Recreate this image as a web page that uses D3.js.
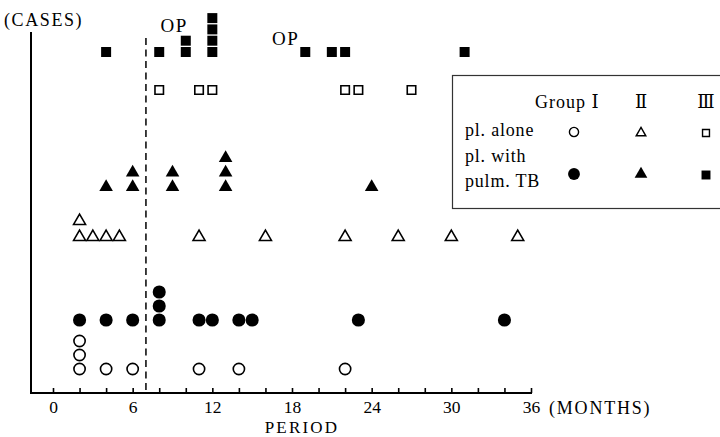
<!DOCTYPE html>
<html>
<head>
<meta charset="utf-8">
<script src="https://cdn.jsdelivr.net/npm/d3@7"></script>
<style>
  body { margin: 0; background: #fff; }
  svg { display: block; font-family: "Liberation Serif", "DejaVu Serif", serif; }
</style>
</head>
<body>
<svg id="chart" width="720" height="437"></svg>
<script>
// months at which each case was recorded; repeated months stack upward
const openCircle     = [2, 2, 2, 4, 6, 11, 14, 22];
const filledCircle   = [2, 4, 6, 8, 8, 8, 11, 12, 14, 15, 23, 34];
const openTriangle   = [2, 2, 3, 4, 5, 11, 16, 22, 26, 30, 35];
const filledTriangle = [4, 6, 6, 9, 9, 13, 13, 13, 24];
const openSquare     = [8, 11, 12, 22, 23, 27];
const filledSquare   = [4, 8, 10, 10, 12, 12, 12, 12, 19, 21, 22, 31];

const xTicks = d3.range(0, 37, 2);
const opMonth = 7;
const opNotes = [{ label: 'OP', month: 8.1, row: 0 }, { label: 'OP', month: 16.5, row: 1 }];
const groupLabels = ['Group Ⅰ', 'Ⅱ', 'Ⅲ'];
const rowLabels = ['pl. alone', ['pl. with', 'pulm. TB']];

const svg = d3.select('#chart');
const axisLeftX = 31, axisTop = 32, axisY = 393;

const x = d3.scaleLinear().domain([0, 36]).range([53, 531]);

// base row of each series, bottom to top, and the vertical step for stacked cases
const series = [
  { key: 'oc', data: openCircle,     type: d3.symbolCircle,   fill: false, size: 100, step: 14 },
  { key: 'fc', data: filledCircle,   type: d3.symbolCircle,   fill: true,  size: 135, step: 14 },
  { key: 'ot', data: openTriangle,   type: d3.symbolTriangle, fill: false, size: 62,  step: 16 },
  { key: 'ft', data: filledTriangle, type: d3.symbolTriangle, fill: true,  size: 80,  step: 14.5 },
  { key: 'os', data: openSquare,     type: d3.symbolSquare,   fill: false, size: 72,  step: 11 },
  { key: 'fs', data: filledSquare,   type: d3.symbolSquare,   fill: true,  size: 100, step: 11.3 }
];
const rowY = d3.scaleOrdinal()
  .domain(series.map((s) => s.key))
  .range([369, 320, 237, 187, 90, 52]);

// axes
svg.append('line')
  .attr('x1', axisLeftX).attr('x2', axisLeftX)
  .attr('y1', axisTop).attr('y2', axisY + 1)
  .attr('stroke', '#000').attr('stroke-width', 2);
svg.append('line')
  .attr('x1', axisLeftX).attr('x2', x(36) + 1)
  .attr('y1', axisY).attr('y2', axisY)
  .attr('stroke', '#000').attr('stroke-width', 2);

const xAxis = svg.append('g')
  .attr('transform', `translate(0,${axisY})`)
  .call(d3.axisBottom(x)
    .tickValues(xTicks)
    .tickSizeInner(-5)
    .tickSizeOuter(0)
    .tickPadding(8)
    .tickFormat((d) => (d % 6 === 0 ? d : '')));
xAxis.select('.domain').remove();
xAxis.selectAll('line').attr('stroke', '#000').attr('stroke-width', 1.6);
xAxis.selectAll('text')
  .attr('fill', '#000')
  .attr('font-family', '"Liberation Serif", serif')
  .attr('font-size', 17.5);

svg.append('text')
  .attr('x', x(36) + 18).attr('y', 414)
  .attr('font-size', 18).attr('letter-spacing', 1.8)
  .text('(MONTHS)');
svg.append('text')
  .attr('x', 302).attr('y', 433)
  .attr('text-anchor', 'middle')
  .attr('font-size', 17).attr('letter-spacing', 2.2)
  .text('PERIOD');
svg.append('text')
  .attr('x', 4).attr('y', 26)
  .attr('font-size', 18).attr('letter-spacing', 1.6)
  .text('(CASES)');

// operation line
svg.append('line')
  .attr('x1', x(opMonth)).attr('x2', x(opMonth))
  .attr('y1', 38).attr('y2', axisY)
  .attr('stroke', '#000').attr('stroke-width', 1.5)
  .attr('stroke-dasharray', '7,4.5');

svg.selectAll('text.op')
  .data(opNotes)
  .join('text')
  .attr('class', 'op')
  .attr('x', (d) => x(d.month))
  .attr('y', (d) => 32 + d.row * 13)
  .attr('font-size', 19).attr('letter-spacing', 1.5)
  .text((d) => d.label);

// cases
series.forEach((s) => {
  const seen = {};
  const pts = s.data.map((m) => {
    const level = seen[m] || 0;
    seen[m] = level + 1;
    return { month: m, level };
  });
  svg.append('g')
    .selectAll('path')
    .data(pts)
    .join('path')
    .attr('transform', (d) => `translate(${x(d.month)},${rowY(s.key) - d.level * s.step})`)
    .attr('d', d3.symbol().type(s.type).size(s.size))
    .attr('fill', s.fill ? '#000' : '#fff')
    .attr('stroke', s.fill ? 'none' : '#000')
    .attr('stroke-width', 1.6);
});

// legend
const lg = svg.append('g');
lg.append('rect')
  .attr('x', 452.5).attr('y', 75.5)
  .attr('width', 300).attr('height', 133)
  .attr('fill', '#fff').attr('stroke', '#333').attr('stroke-width', 1.2);

const legendCols = d3.scaleOrdinal().domain(['Ⅰ', 'Ⅱ', 'Ⅲ']).range([574, 641, 706]);
lg.append('text')
  .attr('x', 535).attr('y', 108)
  .attr('font-size', 18).attr('letter-spacing', 1)
  .text(groupLabels[0]);
lg.selectAll('text.num')
  .data(groupLabels.slice(1))
  .join('text')
  .attr('class', 'num')
  .attr('x', (d) => legendCols(d))
  .attr('y', 108)
  .attr('text-anchor', 'middle')
  .attr('font-size', 18)
  .text((d) => d);

lg.append('text')
  .attr('x', 465).attr('y', 136)
  .attr('font-size', 18).attr('letter-spacing', 0.8)
  .text(rowLabels[0]);
lg.append('text')
  .attr('x', 465).attr('y', 162)
  .attr('font-size', 18).attr('letter-spacing', 0.8)
  .text(rowLabels[1][0]);
lg.append('text')
  .attr('x', 465).attr('y', 187)
  .attr('font-size', 18).attr('letter-spacing', 0.8)
  .text(rowLabels[1][1]);

const legendItems = [
  { col: 'Ⅰ', y: 132, type: d3.symbolCircle,   fill: false, size: 66 },
  { col: 'Ⅱ', y: 133, type: d3.symbolTriangle, fill: false, size: 40 },
  { col: 'Ⅲ', y: 133, type: d3.symbolSquare,   fill: false, size: 48 },
  { col: 'Ⅰ', y: 174, type: d3.symbolCircle,   fill: true,  size: 110 },
  { col: 'Ⅱ', y: 174, type: d3.symbolTriangle, fill: true,  size: 70 },
  { col: 'Ⅲ', y: 175, type: d3.symbolSquare,   fill: true,  size: 80 }
];
lg.selectAll('path')
  .data(legendItems)
  .join('path')
  .attr('transform', (d) => `translate(${legendCols(d.col)},${d.y})`)
  .attr('d', (d) => d3.symbol().type(d.type).size(d.size)())
  .attr('fill', (d) => (d.fill ? '#000' : '#fff'))
  .attr('stroke', (d) => (d.fill ? 'none' : '#000'))
  .attr('stroke-width', 1.4);
</script>
</body>
</html>
